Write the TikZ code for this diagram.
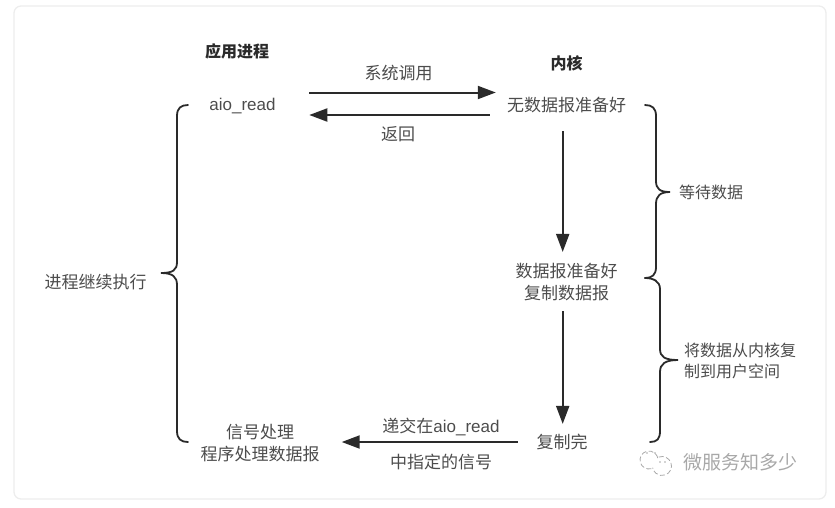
\documentclass[tikz,border=0pt]{standalone}
\usepackage{fontspec}
\setmainfont{Liberation Sans}
\newfontfamily\cjk{Noto Sans CJK SC}
\usetikzlibrary{arrows.meta}
\definecolor{txtgray}{HTML}{4C4C4C}
\definecolor{inkdark}{HTML}{2A2A2A}
\definecolor{cardline}{HTML}{EDEDED}
\definecolor{markgray}{HTML}{A8A8A8}
\tikzset{
  txt/.style={inner sep=0pt,text=txtgray,align=center,font=\cjk\fontsize{17}{22}\selectfont},
  sidetxt/.style={txt,font=\cjk\fontsize{16}{21}\selectfont},
  head/.style={txt,text=inkdark,font=\cjk\bfseries\fontsize{16}{20}\selectfont},
  flow/.style={draw=inkdark,line width=2pt,-{Triangle[length=18pt,width=13pt]}},
  curly/.style={draw=inkdark,line width=1.8pt,line cap=round},
  bubble/.style={draw=markgray,line width=0.8pt,dash pattern=on 5pt off 2.5pt},
  eye/.style={circle,fill=markgray,inner sep=0pt,minimum size=1.6pt}
}
\begin{document}
\begin{tikzpicture}[x=1pt,y=-1pt]
\useasboundingbox (0,0) rectangle (835,507);
\draw[cardline,line width=1.3pt,rounded corners=7pt] (14,6) rectangle (826,499);
% column titles
\node[head] (app) at (237,51) {应用进程};
\node[head] (kernel) at (566.5,63) {内核};
% states
\node[txt,font=\fontsize{17}{20}\selectfont] (aio) at (242.5,106.5) {\strut aio\_read};
\node[txt] (nodata) at (566.5,105) {无数据报准备好};
\node[txt] (ready) at (566.5,282) {数据报准备好\\复制数据报};
\node[txt] (copied) at (562,442) {复制完};
\node[txt] (handler) at (260,443.5) {信号处理\\程序处理数据报};
% labels on the arrows
\node[txt] (call) at (398.5,73) {系统调用};
\node[txt] (back) at (398,134) {返回};
\node[txt] (deliver) at (441,427) {递交在{\fontsize{17}{20}\selectfont\rmfamily aio\_read}};
\node[txt] (signal) at (441,462) {中指定的信号};
% labels on the braces
\node[txt] (running) at (95.5,282) {进程继续执行};
\node[sidetxt] (waiting) at (711,192) {等待数据};
\node[sidetxt,align=left] (copying) at (740,360.5) {将数据从内核复\\制到用户空间};
% arrows
\draw[flow] ([shift={(33.5,-14)}]aio.east) -- ([shift={(-11,-12.5)}]nodata.west);
\draw[flow] ([shift={(-17,10)}]nodata.west) -- ([shift={(33.5,8.5)}]aio.east);
\draw[flow] ([shift={(-3.8,18)}]nodata.south) -- ([shift={(-3.8,-11)}]ready.north);
\draw[flow] ([shift={(-3.8,10)}]ready.south) -- ([shift={(0.7,-10)}]copied.north);
\draw[flow] ([xshift=-18.5pt]copied.west) -- ([shift={(22,-1.5)}]handler.east);
% braces
\draw[curly] (188,105) .. controls (181,105) and (177,108) .. (177,116) -- (177,262) .. controls (177,270) and (173,273) .. (161,273) .. controls (173,273) and (177,277) .. (177,285) -- (177,431) .. controls (177,439) and (181,442) .. (188,442);
\draw[curly] (645,105) .. controls (652,105) and (656,108) .. (656,116) -- (656,181) .. controls (656,189) and (660,192) .. (670,192) .. controls (660,192) and (656,196) .. (656,204) -- (656,267) .. controls (656,275) and (652,278) .. (645,278);
\draw[curly] (645,278) .. controls (653,278) and (660,281) .. (660,289) -- (660,349) .. controls (660,357) and (665,360) .. (678,360) .. controls (665,360) and (660,364) .. (660,372) -- (660,431) .. controls (660,439) and (657,442) .. (650,442);
% watermark
\node[txt,text=markgray,font=\cjk\fontsize{19}{22}\selectfont] (mark) at (740,462) {微服务知多少};
\draw[bubble] (649,460) ++(75:9) arc (75:355:9);
\draw[bubble] (662,466) ++(250:9.5) arc (250:530:9.5);
\node[eye] (eye1) at (647,453) {};
\node[eye] (eye2) at (655,453) {};
\node[eye] (eye3) at (660,462) {};
\node[eye] (eye4) at (665,462) {};
\end{tikzpicture}
\end{document}
